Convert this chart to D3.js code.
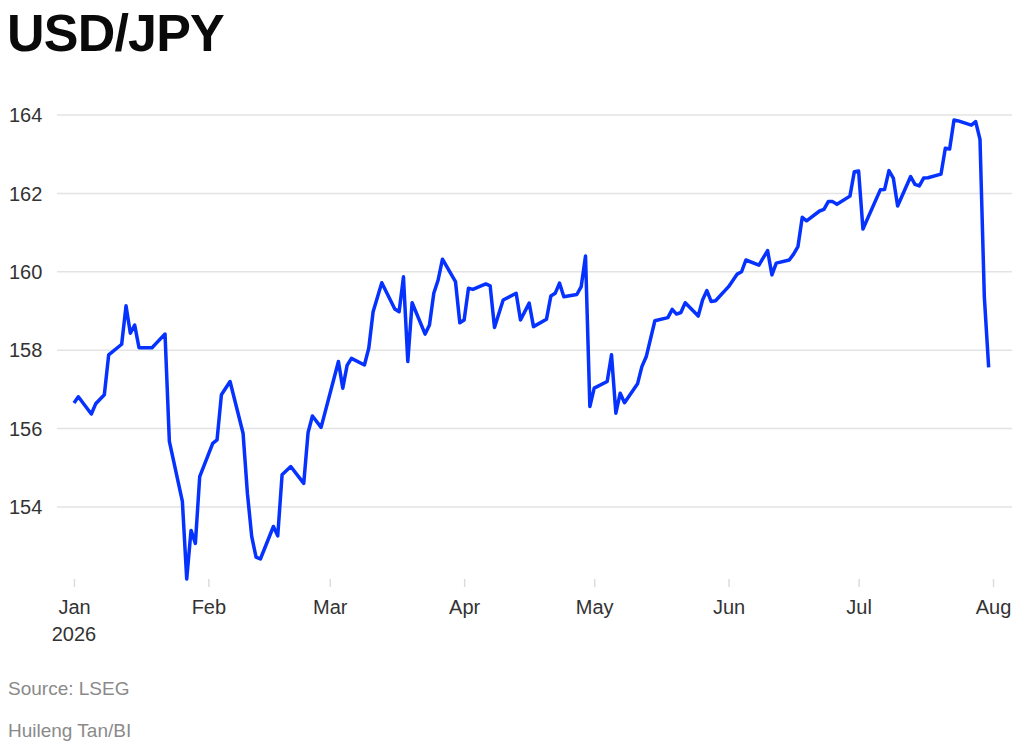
<!DOCTYPE html>
<html>
<head>
<meta charset="utf-8">
<script src="https://cdn.jsdelivr.net/npm/d3@7"></script>
<style>
    body { margin: 0; background: #fff; }
    text { font-family: "Liberation Sans", Arial, sans-serif; }
    .axisLabel { fill: #333; font-size: 20px; }
    .note { fill: #8a8a8a; font-size: 19px; }
</style>
</head>
<body>
<div id="chart"></div>
<script>

var dates = [
    "2026-01-01", "2026-01-02", "2026-01-05", "2026-01-06", "2026-01-08", "2026-01-09",
    "2026-01-12", "2026-01-13", "2026-01-14", "2026-01-15", "2026-01-16", "2026-01-19",
    "2026-01-20", "2026-01-22", "2026-01-23", "2026-01-26", "2026-01-27", "2026-01-28",
    "2026-01-29", "2026-01-30", "2026-02-02", "2026-02-03", "2026-02-04", "2026-02-06",
    "2026-02-09", "2026-02-10", "2026-02-11", "2026-02-12", "2026-02-13", "2026-02-16",
    "2026-02-17", "2026-02-18", "2026-02-20", "2026-02-23", "2026-02-24", "2026-02-25",
    "2026-02-27", "2026-03-03", "2026-03-04", "2026-03-05", "2026-03-06", "2026-03-09",
    "2026-03-10", "2026-03-11", "2026-03-13", "2026-03-16", "2026-03-17", "2026-03-18",
    "2026-03-19", "2026-03-20", "2026-03-23", "2026-03-24", "2026-03-25", "2026-03-26",
    "2026-03-27", "2026-03-30", "2026-03-31", "2026-04-01", "2026-04-02", "2026-04-03",
    "2026-04-06", "2026-04-07", "2026-04-08", "2026-04-10", "2026-04-13", "2026-04-14",
    "2026-04-16", "2026-04-17", "2026-04-20", "2026-04-21", "2026-04-22", "2026-04-23",
    "2026-04-24", "2026-04-27", "2026-04-28", "2026-04-29", "2026-04-30", "2026-05-01",
    "2026-05-04", "2026-05-05", "2026-05-06", "2026-05-07", "2026-05-08", "2026-05-11",
    "2026-05-12", "2026-05-13", "2026-05-15", "2026-05-18", "2026-05-19", "2026-05-20",
    "2026-05-21", "2026-05-22", "2026-05-25", "2026-05-26", "2026-05-27", "2026-05-28",
    "2026-05-29", "2026-06-01", "2026-06-03", "2026-06-04", "2026-06-05", "2026-06-08",
    "2026-06-10", "2026-06-11", "2026-06-12", "2026-06-15", "2026-06-16", "2026-06-17",
    "2026-06-18", "2026-06-19", "2026-06-22", "2026-06-23", "2026-06-24", "2026-06-25",
    "2026-06-26", "2026-06-29", "2026-06-30", "2026-07-01", "2026-07-02", "2026-07-06",
    "2026-07-07", "2026-07-08", "2026-07-09", "2026-07-10", "2026-07-13", "2026-07-14",
    "2026-07-15", "2026-07-16", "2026-07-17", "2026-07-20", "2026-07-21", "2026-07-22",
    "2026-07-23", "2026-07-24", "2026-07-27", "2026-07-28", "2026-07-29", "2026-07-30",
    "2026-07-31"
];

var rates = [
    156.65, 156.81, 156.37, 156.63, 156.86, 157.88,
    158.15, 159.13, 158.43, 158.64, 158.06, 158.06,
    158.18, 158.41, 155.67, 154.14, 152.16, 153.40,
    153.07, 154.77, 155.62, 155.71, 156.86, 157.20,
    155.88, 154.35, 153.24, 152.72, 152.67, 153.50,
    153.26, 154.82, 155.03, 154.60, 155.90, 156.32,
    156.03, 157.71, 157.03, 157.61, 157.79, 157.62,
    158.05, 158.98, 159.72, 159.05, 158.98, 159.87,
    157.71, 159.21, 158.41, 158.64, 159.45, 159.79,
    160.32, 159.75, 158.70, 158.77, 159.58, 159.55,
    159.69, 159.64, 158.58, 159.28, 159.45, 158.77,
    159.20, 158.60, 158.79, 159.38, 159.45, 159.71,
    159.36, 159.42, 159.62, 160.40, 156.56, 157.03,
    157.20, 157.88, 156.39, 156.90, 156.66, 157.14,
    157.58, 157.83, 158.75, 158.83, 159.04, 158.92,
    158.96, 159.21, 158.87, 159.28, 159.52, 159.24,
    159.26, 159.62, 159.94, 160.00, 160.30, 160.17,
    160.54, 159.92, 160.22, 160.30, 160.45, 160.64,
    161.39, 161.30, 161.55, 161.59, 161.79, 161.79,
    161.72, 161.93, 162.55, 162.57, 161.09, 162.09,
    162.10, 162.58, 162.39, 161.68, 162.43, 162.23,
    162.19, 162.39, 162.40, 162.49, 163.15, 163.13,
    163.87, 163.85, 163.74, 163.83, 163.38, 159.36,
    157.56
];

var yTicks = [154, 156, 158, 160, 162, 164];
var monthTicks = ["2026-01-01", "2026-02-01", "2026-03-01", "2026-04-01",
                  "2026-05-01", "2026-06-01", "2026-07-01", "2026-08-01"];
var title = "USD/JPY";
var source = "Source: LSEG";
var credit = "Huileng Tan/BI";

var width = 1024;
var height = 750;
var margin = { top: 115, left: 74, right: 31, bottom: 171 };

var parse = d3.timeParse("%Y-%m-%d");

var data = dates.map(function(d, i) {
    return { date: parse(d), value: rates[i] };
});

var svg = d3.select("#chart")
    .append("svg")
    .attr("width", width)
    .attr("height", height);

var xScale = d3.scaleTime()
    .domain([parse(monthTicks[0]), parse(monthTicks[monthTicks.length - 1])])
    .range([margin.left, width - margin.right]);

var yScale = d3.scaleLinear()
    .domain([d3.min(rates), d3.max(yTicks)])
    .range([height - margin.bottom, margin.top]);

// gridlines + y labels
var grid = svg.append("g");

grid.selectAll("line")
    .data(yTicks)
    .enter()
    .append("line")
    .attr("x1", 57)
    .attr("x2", 1012)
    .attr("y1", function(d) { return yScale(d); })
    .attr("y2", function(d) { return yScale(d); })
    .attr("stroke", "#e3e3e3")
    .attr("stroke-width", 1.5);

grid.selectAll("text")
    .data(yTicks)
    .enter()
    .append("text")
    .attr("class", "axisLabel")
    .attr("x", 9)
    .attr("y", function(d) { return yScale(d); })
    .attr("dy", "0.36em")
    .text(function(d) { return d; });

// x axis
var xAxis = svg.append("g")
    .attr("transform", `translate(0,${height - margin.bottom})`)
    .call(d3.axisBottom(xScale)
        .tickValues(monthTicks.map(parse))
        .tickSize(8)
        .tickPadding(13)
        .tickFormat(d3.timeFormat("%b")));

xAxis.select(".domain").remove();
xAxis.selectAll(".tick line")
    .attr("stroke", "#dcdcdc")
    .attr("stroke-width", 1.5);
xAxis.selectAll(".tick text")
    .attr("class", "axisLabel")
    .attr("font-family", null)
    .attr("font-size", null)
    .attr("fill", null);

svg.append("text")
    .attr("class", "axisLabel")
    .attr("x", xScale(parse(monthTicks[0])))
    .attr("y", 641)
    .attr("text-anchor", "middle")
    .text("2026");

// the line
var line = d3.line()
    .x(function(d) { return xScale(d.date); })
    .y(function(d) { return yScale(d.value); })
    .curve(d3.curveLinear);

svg.append("path")
    .datum(data)
    .attr("d", line)
    .attr("fill", "none")
    .attr("stroke", "#0532ff")
    .attr("stroke-width", 3.5)
    .attr("stroke-linejoin", "round");

// title + notes
svg.append("text")
    .attr("x", 7)
    .attr("y", 51)
    .attr("font-size", 52)
    .attr("font-weight", "bold")
    .attr("letter-spacing", -0.8)
    .attr("fill", "#0a0a0a")
    .text(title);

svg.append("text")
    .attr("class", "note")
    .attr("x", 8)
    .attr("y", 695)
    .text(source);

svg.append("text")
    .attr("class", "note")
    .attr("x", 8)
    .attr("y", 737)
    .text(credit);

</script>
</body>
</html>
